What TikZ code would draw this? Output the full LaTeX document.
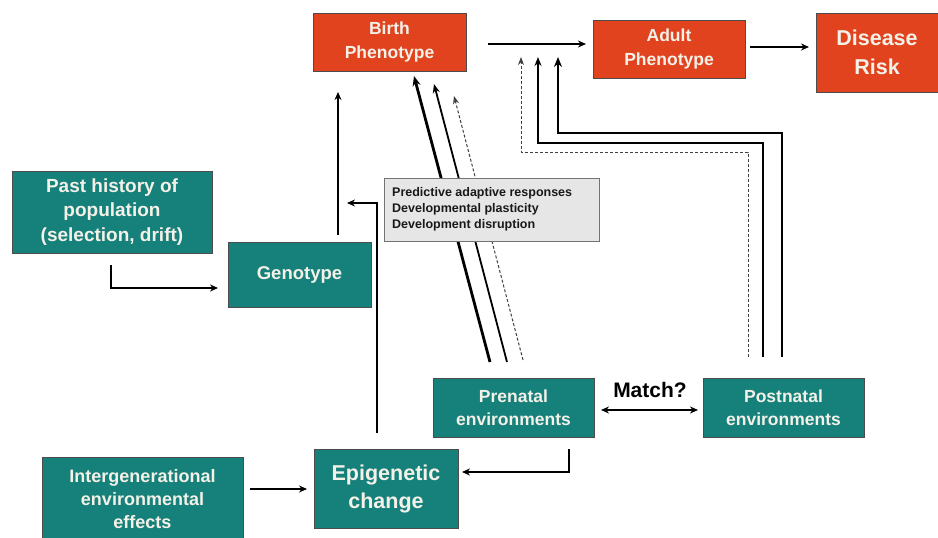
\documentclass[tikz,border=0pt]{standalone}
\usepackage{fontspec}
\setmainfont{Liberation Sans}
\usetikzlibrary{arrows.meta,calc}
\definecolor{redbox}{HTML}{E2431F}
\definecolor{tealbox}{HTML}{16807A}
\definecolor{grayfill}{HTML}{E6E6E6}
\definecolor{boxtext}{HTML}{F3F1E8}
\begin{document}
\begin{tikzpicture}[x=1pt,y=-1pt,
  box/.style={draw=black!70, line width=0.9pt, text=boxtext, align=center, inner sep=0pt},
  redb/.style={box, fill=redbox},
  tealb/.style={box, fill=tealbox},
  arr/.style={-{Stealth[length=8pt,width=7pt]}, line width=1.4pt},
  thickarr/.style={-{Stealth[length=10pt,width=8pt]}, line width=2.8pt},
  medarr/.style={-{Stealth[length=9pt,width=7pt]}, line width=1.8pt},
  dasharr/.style={-{Stealth[length=8pt,width=6pt]}, line width=1pt, densely dashed, color=black!75},
  bothends/.style={{Stealth[length=8pt,width=7pt]}-{Stealth[length=8pt,width=7pt]}, line width=1.4pt}
]
\useasboundingbox (0,0) rectangle (938,538);
\fill[white] (0,0) rectangle (938,538);

% boxes
\node[redb, minimum width=153pt, minimum height=58pt, font=\fontsize{17.5}{24}\bfseries\selectfont] (birth) at (389.5,42) {Birth\\Phenotype};
\node[redb, minimum width=152pt, minimum height=58pt, font=\fontsize{17.5}{24}\bfseries\selectfont] (adult) at (669,49) {Adult\\Phenotype};
\node[redb, minimum width=122pt, minimum height=79pt, font=\fontsize{21.5}{29}\bfseries\selectfont] (disease) at (877,52.5) {Disease\\Risk};
\node[tealb, minimum width=200pt, minimum height=82pt, font=\fontsize{19}{24.5}\bfseries\selectfont] (past) at (112,212) {Past history of\\population\\(selection, drift)};
\node[tealb, minimum width=143pt, minimum height=65pt, font=\fontsize{18.5}{24}\bfseries\selectfont] (geno) at (299.5,274.5) {Genotype};
\node[tealb, minimum width=161pt, minimum height=59pt, font=\fontsize{17.5}{23}\bfseries\selectfont] (pre) at (513.5,407.5) {Prenatal\\environments};
\node[tealb, minimum width=161pt, minimum height=59pt, font=\fontsize{17.5}{23}\bfseries\selectfont] (post) at (783.5,407.5) {Postnatal\\environments};
\node[tealb, minimum width=201pt, minimum height=84pt, font=\fontsize{18}{23}\bfseries\selectfont] (inter) at (142.5,499) {Intergenerational\\environmental\\effects};
\node[tealb, minimum width=144pt, minimum height=79pt, font=\fontsize{21.5}{28}\bfseries\selectfont] (epi) at (386,488.5) {Epigenetic\\change};

% coordinates
\coordinate (b1) at (488,44);
\coordinate (a1) at (586,44);
\coordinate (a2) at (750,47);
\coordinate (d1) at (809,47);
\coordinate (g1) at (338,235);
\coordinate (g2) at (338,92);
\coordinate (e1) at (377,433);
\coordinate (e2) at (377,203);
\coordinate (e3) at (347,203);
\coordinate (p1) at (111,265);
\coordinate (p2) at (111,288);
\coordinate (p3) at (218,288);
\coordinate (r1) at (569,449);
\coordinate (r2) at (569,472);
\coordinate (r3) at (462,472);
\coordinate (i1) at (250,489);
\coordinate (i2) at (307,489);
\coordinate (m1) at (601,410);
\coordinate (m2) at (698,410);
% diagonals
\coordinate (dt1) at (490,362); \coordinate (dh1) at (414,76);
\coordinate (dt2) at (507,362); \coordinate (dh2) at (434,84);
\coordinate (dt3) at (523,360); \coordinate (dh3) at (454,96);
% postnatal elbows
\coordinate (q1) at (782,357); \coordinate (q2) at (782,133); \coordinate (q3) at (558,133); \coordinate (q4) at (558,57);
\coordinate (s1) at (763,357); \coordinate (s2) at (763,143); \coordinate (s3) at (538,143); \coordinate (s4) at (538,57);
\coordinate (t1) at (748,357); \coordinate (t2) at (748,152); \coordinate (t3) at (521,152); \coordinate (t4) at (521,57);

% connectors
\draw[arr] (b1) -- (a1);
\draw[arr, line width=1.8pt] (a2) -- (d1);
\draw[arr] (g1) -- (g2);
\draw[arr] (e1) -- (e2) -- (e3);
\draw[arr, line width=1.8pt] (p1) -- (p2) -- (p3);
\draw[arr] (r1) -- (r2) -- (r3);
\draw[arr, line width=1.8pt] (i1) -- (i2);
\draw[bothends] (m1) -- (m2);
\node[font=\fontsize{21}{24}\bfseries\selectfont, text=black, anchor=center] (match) at (650,390) {Match?};

\draw[thickarr] (dt1) -- (dh1);
\draw[medarr] (dt2) -- (dh2);
\draw[dasharr] (dt3) -- (dh3);

\draw[thickarr] (q1) -- (q2) -- (q3) -- (q4);
\draw[medarr] (s1) -- (s2) -- (s3) -- (s4);
\draw[dasharr] (t1) -- (t2) -- (t3) -- (t4);

% gray box (covers diagonals)
\node[draw=black!55, line width=0.8pt, fill=grayfill, minimum width=215pt, minimum height=63pt, inner sep=0pt] (gray) at (491.5,209.5) {};
\node[anchor=north west, align=left, inner sep=0pt, font=\fontsize{12.5}{16}\bfseries\selectfont, text=black!90] (graytext) at (392,187) {Predictive adaptive responses\\Developmental plasticity\\Development disruption};
\end{tikzpicture}
\end{document}
